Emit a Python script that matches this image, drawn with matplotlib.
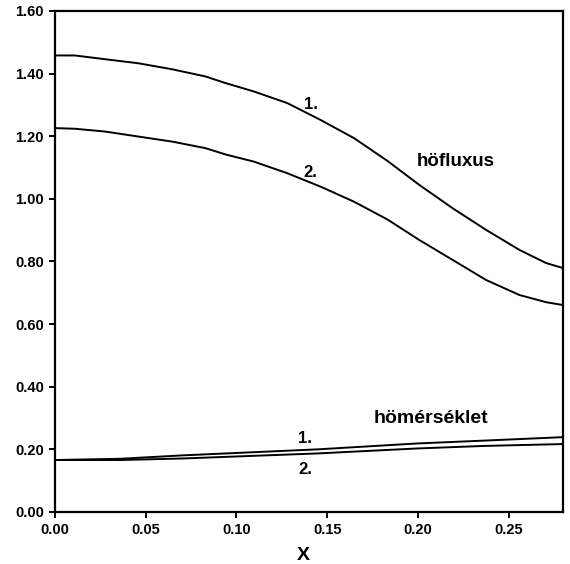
import matplotlib
matplotlib.use("Agg")
import matplotlib.pyplot as plt

plt.rcParams['font.family'] = ['Liberation Sans', 'DejaVu Sans']

# hőfluxus curves
x_flux = [0.000, 0.011, 0.0276, 0.046, 0.0645, 0.0829, 0.0939, 0.1096, 0.128,
          0.1464, 0.1648, 0.1833, 0.2007, 0.2192, 0.2376, 0.256, 0.2707, 0.280]
flux1 = [1.458, 1.458, 1.446, 1.433, 1.414, 1.391, 1.370, 1.343, 1.306,
         1.252, 1.194, 1.121, 1.045, 0.970, 0.901, 0.837, 0.795, 0.779]
flux2 = [1.226, 1.224, 1.215, 1.199, 1.183, 1.162, 1.142, 1.119, 1.082,
         1.039, 0.991, 0.934, 0.869, 0.805, 0.741, 0.693, 0.670, 0.661]

# hőmérséklet curves
x_temp = [0.000, 0.036, 0.0708, 0.1446, 0.200, 0.2366, 0.280]
temp1 = [0.166, 0.170, 0.181, 0.200, 0.219, 0.228, 0.239]
temp2 = [0.166, 0.166, 0.171, 0.187, 0.203, 0.211, 0.217]

xticks = [0.00, 0.05, 0.10, 0.15, 0.20, 0.25]
yticks = [0.00, 0.20, 0.40, 0.60, 0.80, 1.00, 1.20, 1.40, 1.60]

fig = plt.figure(figsize=(5.70, 5.64), dpi=100)
ax = fig.add_axes([0.0965, 0.0922, 0.8912, 0.8883])

lw = 1.4
ax.plot(x_flux, flux1, color='black', lw=lw)
ax.plot(x_flux, flux2, color='black', lw=lw)
ax.plot(x_temp, temp1, color='black', lw=lw)
ax.plot(x_temp, temp2, color='black', lw=lw)

ax.set_xlim(0, 0.28)
ax.set_ylim(0, 1.60)
ax.set_xticks(xticks)
ax.set_yticks(yticks)
ax.set_xticklabels([f"{v:.2f}" for v in xticks], fontsize=10.5, fontweight='bold')
ax.set_yticklabels([f"{v:.2f}" for v in yticks], fontsize=10.5, fontweight='bold')
ax.tick_params(direction='out', length=4, width=1.4, pad=4)
for s in ax.spines.values():
    s.set_linewidth(1.6)

ax.set_xlabel("X", fontsize=14, fontweight='bold')
ax.xaxis.set_label_coords(0.488, -0.069)

ax.text(0.1409, 1.300, "1.", fontsize=12, fontweight='bold', ha='center', va='center')
ax.text(0.1409, 1.083, "2.", fontsize=12, fontweight='bold', ha='center', va='center')
ax.text(0.221, 1.12, "höfluxus", fontsize=13.5, fontweight='bold', ha='center', va='center')
ax.text(0.207, 0.300, "hömérséklet", fontsize=14, fontweight='bold', ha='center', va='center')
ax.text(0.138, 0.236, "1.", fontsize=12, fontweight='bold', ha='center', va='center')
ax.text(0.138, 0.137, "2.", fontsize=12, fontweight='bold', ha='center', va='center')

fig.savefig("out.png", dpi=100)
